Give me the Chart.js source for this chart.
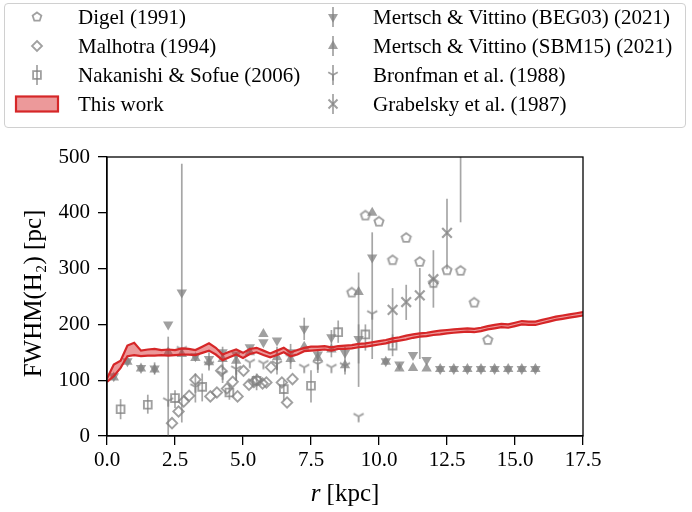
<!DOCTYPE html>
<html>
<head>
<meta charset="utf-8">
<script src="https://cdn.jsdelivr.net/npm/chart.js@4.4.1/dist/chart.umd.min.js"></script>
<style>
  body { margin: 0; background: #fff; }
  #wrap { position: relative; width: 692px; height: 512px; }
  #legendBox { position: absolute; left: 4px; top: 3px; width: 682px; height: 125px; box-sizing: border-box;
               border: 1px solid #d0d0d0; border-radius: 4px; background: #fff; }
  .lg { position: absolute; height: 28px; line-height: 28px; white-space: nowrap;
        font-family: "Liberation Serif", "Times New Roman", serif; font-size: 21px; color: #000; }
  .ic { position: absolute; }
</style>
</head>
<body>
<div id="wrap">
  <canvas id="chart" width="692" height="512"></canvas>
  <div id="legendBox"></div>
</div>
<script>
// FWHM of the H2 disc vs galactocentric radius
const bandR = [0, 0.25, 0.5, 0.75, 1, 1.25, 1.5, 1.75, 2, 2.25, 2.5, 2.75, 3, 3.25, 3.5, 3.75,
  4, 4.25, 4.5, 4.75, 5, 5.25, 5.5, 5.75, 6, 6.25, 6.5, 6.75, 7, 7.25, 7.5, 7.75,
  8, 8.25, 8.5, 8.75, 9, 9.25, 9.5, 9.75, 10, 10.25, 10.5, 10.75, 11, 11.25, 11.5, 11.75,
  12, 12.25, 12.5, 12.75, 13, 13.25, 13.5, 13.75, 14, 14.25, 14.5, 14.75, 15, 15.25, 15.5, 15.75,
  16, 16.25, 16.5, 16.75, 17, 17.25, 17.5];
const bandLo = [97, 107, 122, 143, 145, 143, 144, 144, 145, 144, 145, 146, 146, 145, 149, 153,
  146, 136, 141, 146, 140, 147, 150, 145, 141, 145, 150, 143, 146, 152, 153, 154,
  155, 153, 156, 156, 157, 159, 160, 162, 164, 166, 169, 171, 173, 176, 178, 179,
  181, 182, 184, 185, 186, 187, 186, 188, 191, 193, 195, 194, 197, 200, 199, 199,
  202, 205, 208, 210, 212, 214, 216];
const bandHi = [103, 128, 135, 162, 167, 153, 155, 156, 154, 155, 154, 157, 156, 154, 160, 166,
  158, 146, 151, 155, 149, 156, 158, 153, 148, 153, 158, 150, 154, 158, 160, 160,
  161, 159, 161, 162, 163, 165, 166, 168, 170, 172, 175, 177, 180, 182, 184, 185,
  187, 189, 190, 191, 192, 193, 192, 194, 197, 199, 201, 200, 203, 206, 205, 205,
  208, 211, 214, 216, 218, 220, 222];

const digelR = [9.0, 9.5, 10.0, 10.5, 11.0, 11.5, 12.0, 12.5, 13.0, 13.5, 14.0];
const digelW = [257, 395, 384, 315, 355, 312, 274, 297, 296, 239, 172];

const malhotraR = [2.39, 2.63, 2.82, 3.02, 3.25, 3.80, 4.04, 4.20, 4.41, 4.62, 4.80, 5.02, 5.22, 5.40, 5.52, 5.72, 5.86, 6.03, 6.43, 6.62, 6.82];
const malhotraW = [23, 44, 62, 72, 101, 71, 78, 117, 85, 97, 71, 117, 92, 97, 100, 94, 96, 123, 96, 60, 102];

const nakanishiR = [0.5, 1.5, 2.5, 3.5, 4.5, 5.5, 6.5, 7.5, 8.5, 9.5, 10.5];
const nakanishiW = [48, 56, 68, 88, 78, 99, 84, 90, 186, 182, 162];
const nakanishiLo = [30, 40, 50, 62, 65, 82, 64, 60, 167, 153, 143];
const nakanishiHi = [66, 74, 82, 112, 92, 112, 100, 118, 207, 200, 182];

const mvR = [0.25, 0.75, 1.25, 1.75, 2.25, 2.75, 3.25, 3.75, 4.25, 4.75, 5.25, 5.75, 6.25, 6.75, 7.25, 7.75,
  8.25, 8.75, 9.25, 9.75, 10.25, 10.75, 11.25, 11.75, 12.25, 12.75, 13.25, 13.75, 14.25, 14.75, 15.25, 15.75];
const begW = [107, 134, 122, 121, 200, 257, 143, 138, 150, 146, 159, 168, 171, 150, 192, 146,
  177, 149, 174, 320, 134, 128, 145, 136, 120, 120, 120, 120, 120, 120, 120, 120];
const begLo = [null, null, null, 110, null, 24, null, 125, 118, 100, null, null, null, null, 172, null,
  141, null, 88, 138, null, null, null, null, null, null, null, null, null, null, null, null];
const begHi = [null, null, null, 132, null, 488, null, 150, 160, 150, null, null, null, null, 212, null,
  190, null, 200, 365, null, null, null, null, null, null, null, null, null, null, null, null];
const sbmW = [105, 133, 121, 119, 150, 147, 140, 132, 138, 135, 150, 183, 141, 138, 160, 140,
  155, 127, 258, 400, 133, 121, 122, 121, 120, 120, 120, 120, 120, 120, 120, 120];
const sbmLo = [null, null, null, null, null, null, null, null, null, null, null, null, 118, null, null, null,
  null, 110, 130, null, null, null, null, null, null, null, null, null, null, null, null, null];
const sbmHi = [null, null, null, null, null, null, null, null, null, null, null, null, 160, null, null, null,
  null, 160, 293, null, null, null, null, null, null, null, null, null, null, null, null, null];

const bronfmanR = [2.25, 2.75, 3.25, 3.75, 4.25, 4.75, 5.25, 5.75, 6.25, 6.75, 7.25, 7.75, 8.25, 8.75, 9.25, 9.75];
const bronfmanW = [63, 155, 88, 128, 111, 120, 132, 130, 129, 141, 123, 129, 123, 126, 35, 219];
const bronfmanLo = [0, null, 60, null, 95, 99, null, null, 110, 120, null, 113, null, null, null, null];
const bronfmanHi = [178, null, 112, null, 128, 141, null, null, 150, 165, null, 153, null, null, null, null];

const grabelskyR = [10.5, 11.0, 11.5, 12.0, 12.5, 13.0];
const grabelskyW = [226, 240, 252, 281, 364, 560];
const grabelskyLo = [159, 208, 138, 230, 299, 383];
const grabelskyHi = [265, 271, 301, 333, 425, 740];

const GRAY = 'rgba(128,128,128,0.75)';
const ERR = 'rgba(128,128,128,0.7)';
const RED = '#d62728';
const RED_FILL = 'rgba(214,39,40,0.47)';
const FONT = "'Liberation Serif', 'Times New Roman', serif";

const pts = (xs, ys) => xs.map((x, i) => ({ x: x, y: ys[i] }));

// marker shapes that chart.js has no built-in style for
function pentagon(ctx, cx, cy, r) {
  ctx.beginPath();
  for (let k = 0; k < 5; k++) {
    const a = -Math.PI / 2 + k * 2 * Math.PI / 5;
    const px = cx + r * Math.cos(a), py = cy + r * Math.sin(a);
    if (k === 0) ctx.moveTo(px, py); else ctx.lineTo(px, py);
  }
  ctx.closePath();
  ctx.stroke();
}
function triY(ctx, cx, cy, r) {
  ctx.beginPath();
  ctx.moveTo(cx, cy); ctx.lineTo(cx, cy + r);
  ctx.moveTo(cx, cy); ctx.lineTo(cx - r * 0.866, cy - r * 0.5);
  ctx.moveTo(cx, cy); ctx.lineTo(cx + r * 0.866, cy - r * 0.5);
  ctx.stroke();
}
function markerCanvas(fn, r) {
  const c = document.createElement('canvas');
  c.width = 16; c.height = 16;
  const g = c.getContext('2d');
  g.strokeStyle = GRAY; g.lineWidth = 1.9;
  fn(g, 8, 8, r);
  return c;
}
const pentStyle = markerCanvas(pentagon, 4.8);
const triStyle = markerCanvas(triY, 5.8);

// vertical error bars, drawn under the markers
const errorBars = {
  id: 'errorBars',
  beforeDatasetsDraw(chart) {
    const { ctx, chartArea: a, scales: { x, y } } = chart;
    ctx.save();
    ctx.beginPath();
    ctx.rect(a.left, a.top, a.width, a.height);
    ctx.clip();
    ctx.strokeStyle = ERR;
    ctx.lineWidth = 1.7;
    chart.data.datasets.forEach(ds => {
      if (!ds.errLo) return;
      ds.data.forEach((p, i) => {
        if (ds.errLo[i] == null) return;
        const px = x.getPixelForValue(p.x);
        ctx.beginPath();
        ctx.moveTo(px, y.getPixelForValue(ds.errLo[i]));
        ctx.lineTo(px, y.getPixelForValue(ds.errHi[i]));
        ctx.stroke();
      });
    });
    ctx.restore();
  }
};

// box around the axes plus the two axis titles
const frameAndTitles = {
  id: 'frameAndTitles',
  afterDraw(chart) {
    const { ctx, chartArea: a } = chart;
    ctx.save();
    ctx.strokeStyle = '#000';
    ctx.lineWidth = 1.3;
    ctx.strokeRect(a.left, a.top, a.right - a.left, a.bottom - a.top);
    ctx.fillStyle = '#000';
    ctx.textBaseline = 'middle';
    // x title with italic r
    ctx.font = 'italic 25px ' + FONT;
    const w1 = ctx.measureText('r').width;
    ctx.font = '25px ' + FONT;
    const w2 = ctx.measureText(' [kpc]').width;
    const x0 = (a.left + a.right) / 2 - (w1 + w2) / 2;
    ctx.textAlign = 'left';
    ctx.font = 'italic 25px ' + FONT;
    ctx.fillText('r', x0, 494);
    ctx.font = '25px ' + FONT;
    ctx.fillText(' [kpc]', x0 + w1, 494);
    // y title
    ctx.translate(34, (a.top + a.bottom) / 2 - 3);
    ctx.rotate(-Math.PI / 2);
    ctx.textAlign = 'center';
    ctx.fillText('FWHM(H\u2082) [pc]', 0, 0);
    ctx.restore();
  }
};

Chart.defaults.font.family = FONT;
Chart.defaults.font.size = 21;
Chart.defaults.color = '#000';

const ctx = document.getElementById('chart').getContext('2d');
const chart = new Chart(ctx, {
  type: 'scatter',
  data: {
    datasets: [
      {
        type: 'line', label: 'This work', data: pts(bandR, bandHi),
        borderColor: RED, borderWidth: 2.2, backgroundColor: RED_FILL,
        fill: '+1', pointRadius: 0, tension: 0, order: 0
      },
      {
        type: 'line', label: 'This work (lower)', data: pts(bandR, bandLo),
        borderColor: RED, borderWidth: 2.2, fill: false, pointRadius: 0, tension: 0, order: 0
      },
      {
        label: 'Digel (1991)', data: pts(digelR, digelW),
        pointStyle: pentStyle, order: 1
      },
      {
        label: 'Malhotra (1994)', data: pts(malhotraR, malhotraW),
        pointStyle: 'rectRot', pointRadius: 5.2, pointBorderWidth: 1.9,
        pointBackgroundColor: 'rgba(0,0,0,0)', pointBorderColor: GRAY, order: 1
      },
      {
        label: 'Nakanishi & Sofue (2006)', data: pts(nakanishiR, nakanishiW),
        errLo: nakanishiLo, errHi: nakanishiHi,
        pointStyle: 'rect', pointRadius: 5.5, pointBorderWidth: 1.9,
        pointBackgroundColor: 'rgba(0,0,0,0)', pointBorderColor: GRAY, order: 1
      },
      {
        label: 'Mertsch & Vittino (BEG03) (2021)', data: pts(mvR, begW),
        errLo: begLo, errHi: begHi,
        pointStyle: 'triangle', pointRotation: 180, pointRadius: 6, pointBorderWidth: 0,
        pointBackgroundColor: GRAY, order: 1
      },
      {
        label: 'Mertsch & Vittino (SBM15) (2021)', data: pts(mvR, sbmW),
        errLo: sbmLo, errHi: sbmHi,
        pointStyle: 'triangle', pointRadius: 6, pointBorderWidth: 0,
        pointBackgroundColor: GRAY, order: 1
      },
      {
        label: 'Bronfman et al. (1988)', data: pts(bronfmanR, bronfmanW),
        errLo: bronfmanLo, errHi: bronfmanHi,
        pointStyle: triStyle, order: 1
      },
      {
        label: 'Grabelsky et al. (1987)', data: pts(grabelskyR, grabelskyW),
        errLo: grabelskyLo, errHi: grabelskyHi,
        pointStyle: 'crossRot', pointRadius: 6.8, pointBorderWidth: 2.2,
        pointBorderColor: GRAY, order: 1
      }
    ]
  },
  options: {
    responsive: false,
    animation: false,
    events: [],
    layout: { padding: { top: 157, right: 109, left: 0, bottom: 0 } },
    plugins: { legend: { display: false }, tooltip: { enabled: false } },
    scales: {
      x: {
        type: 'linear', min: 0, max: 17.5,
        ticks: { stepSize: 2.5, autoSkip: false, maxRotation: 0, padding: 3,
                 callback: v => v.toFixed(1) },
        grid: { drawOnChartArea: false, drawTicks: true, tickLength: 9, color: '#000', lineWidth: 1.3 },
        border: { display: true, color: '#000', width: 1.3 },
        afterFit(s) { s.height = 76; }
      },
      y: {
        min: 0, max: 500,
        ticks: { stepSize: 100, padding: 8 },
        grid: { drawOnChartArea: false, drawTicks: true, tickLength: 9, color: '#000', lineWidth: 1.3 },
        border: { display: true, color: '#000', width: 1.3 },
        afterFit(s) { s.width = 107; }
      }
    }
  },
  plugins: [errorBars, frameAndTitles]
});

// legend: two columns of four entries
const legendItems = [
  { text: 'Digel (1991)', kind: 'pent', col: 0, row: 0 },
  { text: 'Malhotra (1994)', kind: 'diam', col: 0, row: 1 },
  { text: 'Nakanishi & Sofue (2006)', kind: 'sq', col: 0, row: 2 },
  { text: 'This work', kind: 'band', col: 0, row: 3 },
  { text: 'Mertsch & Vittino (BEG03) (2021)', kind: 'down', col: 1, row: 0 },
  { text: 'Mertsch & Vittino (SBM15) (2021)', kind: 'up', col: 1, row: 1 },
  { text: 'Bronfman et al. (1988)', kind: 'tri', col: 1, row: 2 },
  { text: 'Grabelsky et al. (1987)', kind: 'x', col: 1, row: 3 }
];
const colIcon = [37, 333], colText = [78, 373], rowY = [17, 46, 75, 104];

function drawIcon(g, kind, cx, cy) {
  g.strokeStyle = GRAY; g.fillStyle = GRAY; g.lineWidth = 1.8;
  const errLine = () => { g.strokeStyle = ERR; g.beginPath(); g.moveTo(cx, cy - 10); g.lineTo(cx, cy + 10); g.stroke(); g.strokeStyle = GRAY; };
  if (kind === 'band') {
    g.fillStyle = RED_FILL; g.fillRect(cx - 21, cy - 7.5, 42, 15);
    g.strokeStyle = RED; g.lineWidth = 2.2; g.strokeRect(cx - 21, cy - 7.5, 42, 15);
  } else if (kind === 'pent') {
    pentagon(g, cx, cy, 4.6);
  } else if (kind === 'diam') {
    g.beginPath(); g.moveTo(cx, cy - 5); g.lineTo(cx + 5, cy); g.lineTo(cx, cy + 5); g.lineTo(cx - 5, cy); g.closePath(); g.stroke();
  } else if (kind === 'sq') {
    errLine(); g.strokeRect(cx - 3.9, cy - 3.9, 7.8, 7.8);
  } else if (kind === 'down' || kind === 'up') {
    errLine();
    const s = kind === 'down' ? 1 : -1;
    g.beginPath(); g.moveTo(cx, cy + 5.8 * s); g.lineTo(cx - 5, cy - 2.9 * s); g.lineTo(cx + 5, cy - 2.9 * s); g.closePath(); g.fill();
  } else if (kind === 'tri') {
    errLine(); triY(g, cx, cy, 5.5);
  } else if (kind === 'x') {
    errLine(); g.lineWidth = 2;
    g.beginPath(); g.moveTo(cx - 4.5, cy - 4.5); g.lineTo(cx + 4.5, cy + 4.5);
    g.moveTo(cx + 4.5, cy - 4.5); g.lineTo(cx - 4.5, cy + 4.5); g.stroke();
  }
}

const wrap = document.getElementById('wrap');
legendItems.forEach(it => {
  const c = document.createElement('canvas');
  c.width = 48; c.height = 28; c.className = 'ic';
  c.style.left = (colIcon[it.col] - 24) + 'px';
  c.style.top = (rowY[it.row] - 14) + 'px';
  drawIcon(c.getContext('2d'), it.kind, 24, 14);
  wrap.appendChild(c);
  const s = document.createElement('div');
  s.className = 'lg';
  s.textContent = it.text;
  s.style.left = colText[it.col] + 'px';
  s.style.top = (rowY[it.row] - 14) + 'px';
  wrap.appendChild(s);
});
</script>
</body>
</html>
